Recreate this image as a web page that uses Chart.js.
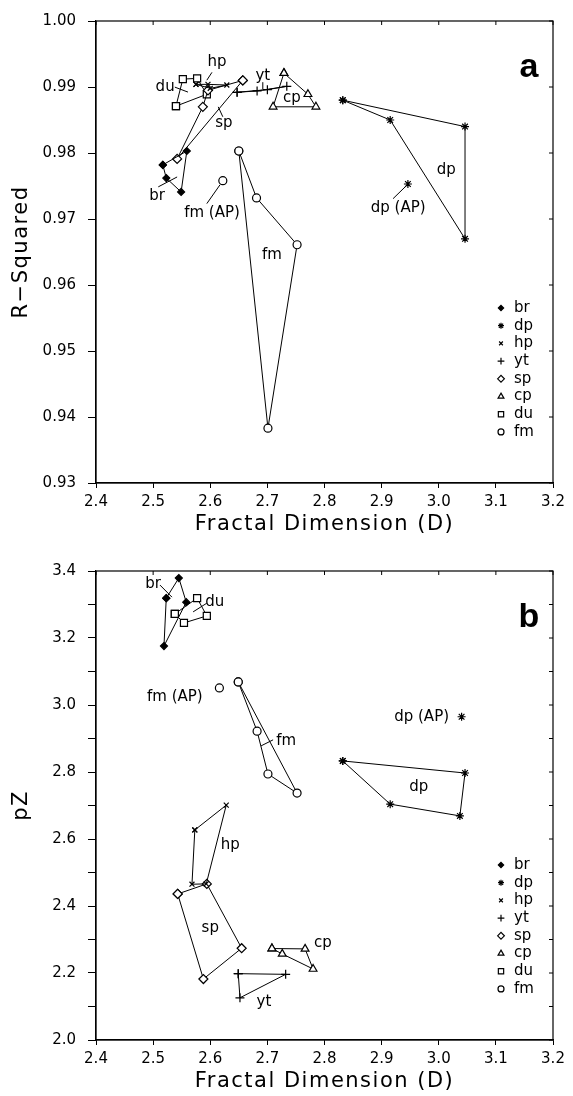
<!DOCTYPE html>
<html>
<head>
<meta charset="utf-8">
<script src="https://cdn.jsdelivr.net/npm/chart.js@4.4.0/dist/chart.umd.min.js"></script>
<style>
  html, body { margin: 0; padding: 0; background: #fff; }
  .panel { position: absolute; left: 0; width: 573px; height: 548px; }
</style>
</head>
<body>
<div class="panel" style="top:0"><canvas id="chartA" width="573" height="548"></canvas></div>
<div class="panel" style="top:548px"><canvas id="chartB" width="573" height="548"></canvas></div>
<script>
// tick values
const xTicks = [2.4, 2.5, 2.6, 2.7, 2.8, 2.9, 3.0, 3.1, 3.2];
const yTicksA = [0.93, 0.94, 0.95, 0.96, 0.97, 0.98, 0.99, 1.00];
const yTicksB = [2.0, 2.1, 2.2, 2.3, 2.4, 2.5, 2.6, 2.7, 2.8, 2.9, 3.0, 3.1, 3.2, 3.3, 3.4];
const yLabelsB = [2.0, 2.2, 2.4, 2.6, 2.8, 3.0, 3.2, 3.4];

const species = ['br', 'dp', 'hp', 'yt', 'sp', 'cp', 'du', 'fm'];

// panel a: fractal dimension vs R-squared (polygon order)
const brDa = [2.517, 2.559, 2.549, 2.523];
const brRa = [0.9782, 0.9803, 0.9741, 0.9762];
const dpDa = [2.832, 2.915, 3.046, 3.046];
const dpRa = [0.9880, 0.9850, 0.9670, 0.9840];
const hpDa = [2.575, 2.596, 2.629, 2.600];
const hpRa = [0.9904, 0.9904, 0.9903, 0.9898];
const ytDa = [2.647, 2.682, 2.734, 2.700];
const ytRa = [0.9892, 0.9894, 0.9901, 0.9896];
const spDa = [2.657, 2.596, 2.587, 2.542];
const spRa = [0.9910, 0.9895, 0.9870, 0.9791];
const cpDa = [2.729, 2.771, 2.785, 2.710];
const cpRa = [0.9921, 0.9889, 0.9870, 0.9870];
const duDa = [2.540, 2.552, 2.577, 2.594];
const duRa = [0.9871, 0.9912, 0.9913, 0.9889];
const fmDa = [2.650, 2.681, 2.752, 2.701];
const fmRa = [0.9803, 0.9732, 0.9661, 0.9383];
const fmApA = [2.622, 0.9758];
const dpApA = [2.946, 0.9753];

// panel b: fractal dimension vs pZ
const brDb = [2.523, 2.545, 2.558, 2.519];
const brZb = [3.319, 3.379, 3.307, 3.176];
const dpDb = [2.832, 3.046, 3.037, 2.915];
const dpZb = [2.833, 2.797, 2.669, 2.704];
const hpDb = [2.573, 2.628, 2.593, 2.568];
const hpZb = [2.627, 2.701, 2.466, 2.465];
const ytDb = [2.649, 2.732, 2.652];
const ytZb = [2.198, 2.196, 2.126];
const spDb = [2.543, 2.594, 2.655, 2.588];
const spZb = [2.436, 2.466, 2.274, 2.182];
const cpDb = [2.708, 2.766, 2.780, 2.726];
const cpZb = [2.273, 2.272, 2.212, 2.257];
const duDb = [2.538, 2.577, 2.594, 2.554];
const duZb = [3.272, 3.319, 3.266, 3.245];
const fmDb = [2.649, 2.682, 2.701, 2.752];
const fmZb = [3.069, 2.922, 2.794, 2.737];
const fmApB = [2.616, 3.051];
const dpApB = [3.040, 2.965];

// text labels inside the plots (data units) and their leader lines
const labelsA = [
  ['hp', 2.612, 0.99372], ['du', 2.521, 0.98998], ['sp', 2.624, 0.98459],
  ['yt', 2.692, 0.99162], ['cp', 2.743, 0.98833], ['br', 2.507, 0.97353],
  ['fm (AP)', 2.603, 0.97083], ['fm', 2.708, 0.96455], ['dp (AP)', 2.929, 0.97158],
  ['dp', 3.013, 0.97740]
];
const leadersA = [
  [2.603, 0.99222, 2.594, 0.99103], [2.538, 0.98998, 2.561, 0.98923],
  [2.614, 0.98699, 2.622, 0.98549], [2.692, 0.99073, 2.692, 0.98968],
  [2.509, 0.97487, 2.542, 0.97637], [2.594, 0.97233, 2.617, 0.97517],
  [2.920, 0.97308, 2.943, 0.97502]
];
const labelsB = [
  ['br', 2.500, 3.361], ['du', 2.608, 3.307], ['fm (AP)', 2.538, 3.024],
  ['fm', 2.733, 2.893], ['dp', 2.965, 2.755], ['hp', 2.635, 2.582],
  ['sp', 2.600, 2.334], ['cp', 2.797, 2.290], ['yt', 2.694, 2.113],
  ['dp (AP)', 2.970, 2.965]
];
const leadersB = [
  [2.512, 3.358, 2.533, 3.322], [2.594, 3.304, 2.570, 3.278],
  [2.710, 2.896, 2.689, 2.878]
];

const marker = {
  br: { style: 'rectRot', r: 3.5, fill: '#000' },
  dp: { style: 'star', r: 4, fill: '#000' },
  hp: { style: 'crossRot', r: 3.5, fill: '#000' },
  yt: { style: 'cross', r: 4.5, fill: '#000' },
  sp: { style: 'rectRot', r: 4.5, fill: '#fff' },
  cp: { style: 'triangle', r: 4.5, fill: '#fff' },
  du: { style: 'rect', r: 5, fill: '#fff' },
  fm: { style: 'circle', r: 4, fill: '#fff' }
};

const FONT = '"DejaVu Sans", sans-serif';

function polygon(xs, ys) {
  const pts = xs.map((x, i) => ({ x: x, y: ys[i] }));
  pts.push({ x: xs[0], y: ys[0] });
  return pts;
}

function buildSets(groups, fmAp, dpAp) {
  const sets = species.map(sp => {
    const m = marker[sp];
    return {
      label: sp,
      data: polygon(groups[sp][0], groups[sp][1]),
      showLine: true,
      borderColor: '#000',
      borderWidth: 1,
      tension: 0,
      pointStyle: m.style,
      pointRadius: m.r,
      pointBackgroundColor: m.fill,
      pointBorderColor: '#000',
      pointBorderWidth: 1.2
    };
  });
  sets.push({ label: 'fm(AP)', data: [{ x: fmAp[0], y: fmAp[1] }], pointStyle: 'circle', pointRadius: 4,
    pointBackgroundColor: '#fff', pointBorderColor: '#000', pointBorderWidth: 1.2 });
  sets.push({ label: 'dp(AP)', data: [{ x: dpAp[0], y: dpAp[1] }], pointStyle: 'star', pointRadius: 4,
    pointBackgroundColor: '#000', pointBorderColor: '#000', pointBorderWidth: 1.2 });
  return sets;
}

const decor = {
  id: 'decor',
  afterDraw(chart, args, opts) {
    const ctx = chart.ctx;
    const a = chart.chartArea;
    const xs = chart.scales.x, ys = chart.scales.y;
    ctx.save();
    ctx.strokeStyle = '#000';
    ctx.lineWidth = 1.2;
    ctx.strokeRect(a.left, a.top, a.right - a.left, a.bottom - a.top);
    // small inward ticks on top and right
    ctx.lineWidth = 1;
    ctx.beginPath();
    xTicks.forEach(v => { const px = xs.getPixelForValue(v); ctx.moveTo(px, a.top); ctx.lineTo(px, a.top + 4); });
    opts.yTicks.forEach(v => { const py = ys.getPixelForValue(v); ctx.moveTo(a.right, py); ctx.lineTo(a.right - 4, py); });
    ctx.stroke();

    // leader lines
    ctx.beginPath();
    opts.leaders.forEach(l => {
      ctx.moveTo(xs.getPixelForValue(l[0]), ys.getPixelForValue(l[1]));
      ctx.lineTo(xs.getPixelForValue(l[2]), ys.getPixelForValue(l[3]));
    });
    ctx.stroke();

    // labels
    ctx.fillStyle = '#000';
    ctx.font = '15px ' + FONT;
    ctx.textAlign = 'center';
    ctx.textBaseline = 'middle';
    opts.labels.forEach(t => {
      ctx.fillText(t[0], xs.getPixelForValue(t[1]), ys.getPixelForValue(t[2]));
    });

    // legend
    ctx.textAlign = 'left';
    species.forEach((sp, i) => {
      const m = marker[sp];
      const y = a.bottom - 175 + i * 17.7;
      const x = a.right - 52;
      ctx.fillStyle = m.fill;
      ctx.strokeStyle = '#000';
      ctx.lineWidth = 1.2;
      Chart.helpers.drawPoint(ctx, { pointStyle: m.style, rotation: 0, radius: m.r * 0.75, borderWidth: 1.2 }, x, y);
      ctx.fillStyle = '#000';
      ctx.fillText(sp, x + 13, y);
    });

    // axis titles
    ctx.font = '21px ' + FONT;
    ctx.letterSpacing = '1.5px';
    ctx.textAlign = 'center';
    ctx.fillText('Fractal Dimension (D)', (a.left + a.right) / 2, a.bottom + 42);
    ctx.save();
    ctx.translate(22, (a.top + a.bottom) / 2);
    ctx.rotate(-Math.PI / 2);
    ctx.fillText(opts.yTitle, 0, 0);
    ctx.restore();
    ctx.letterSpacing = '0px';

    // panel letter
    ctx.font = 'bold 34px "Liberation Sans", Arial, sans-serif';
    ctx.textBaseline = 'alphabetic';
    ctx.fillText(opts.letter, a.right - 24, a.top + 56);
    ctx.restore();
  }
};

function makeChart(id, sets, yMin, yMax, yTicks, yLabels, yTitle, pad, xHeight, letter, labels, leaders) {
  return new Chart(document.getElementById(id), {
    type: 'scatter',
    data: { datasets: sets },
    plugins: [decor],
    options: {
      responsive: false,
      animation: false,
      layout: { padding: pad },
      plugins: {
        legend: { display: false },
        tooltip: { enabled: false },
        decor: { letter: letter, labels: labels, leaders: leaders, yTicks: yTicks, yTitle: yTitle }
      },
      scales: {
        x: {
          type: 'linear', min: 2.4, max: 3.2,
          afterBuildTicks: s => { s.ticks = xTicks.map(v => ({ value: v })); },
          afterFit: s => { s.height = xHeight; },
          grid: { drawOnChartArea: false, tickLength: 5, tickColor: '#000', tickWidth: 1 },
          border: { display: true, color: '#000', width: 1.2 },
          ticks: { color: '#000', padding: 5, font: { family: FONT, size: 15 }, maxRotation: 0,
            callback: v => v.toFixed(1) }
        },
        y: {
          type: 'linear', min: yMin, max: yMax,
          afterBuildTicks: s => { s.ticks = yTicks.map(v => ({ value: v })); },
          afterFit: s => { s.width = 96; },
          grid: { drawOnChartArea: false, tickLength: 8, tickColor: '#000', tickWidth: 1 },
          border: { display: true, color: '#000', width: 1.2 },
          ticks: { color: '#000', padding: 12, font: { family: FONT, size: 15 },
            callback: v => {
              const hit = yLabels.some(l => Math.abs(l - v) < 1e-6);
              return hit ? v.toFixed(yMax > 2 ? 1 : 2) : '';
            } }
        }
      }
    }
  });
}

const groupsA = {
  br: [brDa, brRa], dp: [dpDa, dpRa], hp: [hpDa, hpRa], yt: [ytDa, ytRa],
  sp: [spDa, spRa], cp: [cpDa, cpRa], du: [duDa, duRa], fm: [fmDa, fmRa]
};
const groupsB = {
  br: [brDb, brZb], dp: [dpDb, dpZb], hp: [hpDb, hpZb], yt: [ytDb, ytZb],
  sp: [spDb, spZb], cp: [cpDb, cpZb], du: [duDb, duZb], fm: [fmDb, fmZb]
};

makeChart('chartA', buildSets(groupsA, fmApA, dpApA), 0.93, 1.00, yTicksA, yTicksA, 'R\u2212Squared',
  { left: 0, top: 15, right: 20, bottom: 0 }, 65, 'a', labelsA, leadersA);
makeChart('chartB', buildSets(groupsB, fmApB, dpApB), 2.0, 3.4, yTicksB, yLabelsB, 'pZ',
  { left: 0, top: 23, right: 20, bottom: 0 }, 56, 'b', labelsB, leadersB);
</script>
</body>
</html>
